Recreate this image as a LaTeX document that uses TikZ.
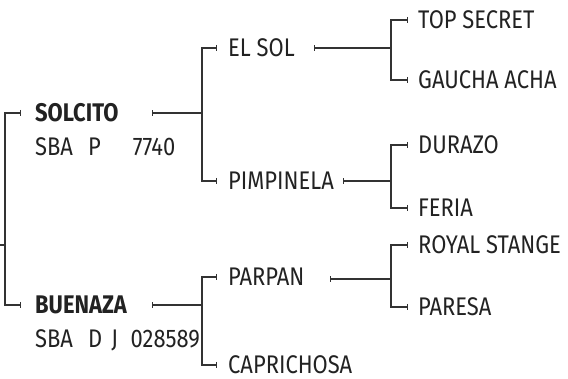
\documentclass[tikz,border=0pt]{standalone}
\usepackage{fontspec}
\setmainfont{Fira Sans}[FakeStretch=0.86]
\usepackage{tikz}
\usetikzlibrary{arrows.meta}

\definecolor{ink}{HTML}{222222}
\definecolor{wire}{HTML}{333333}

\tikzset{
  horse/.style={anchor=west,inner xsep=0pt,inner ysep=0pt,text=ink,font=\fontsize{25.5}{28}\selectfont},
  sire/.style={horse,font=\fontsize{25.5}{28}\selectfont\bfseries},
  reg/.style={horse},
  branch/.style={draw=wire,line width=1.2pt,-{Bar[width=6pt,line width=1.2pt]}},
  stem/.style={draw=wire,line width=1.2pt,{Bar[width=6pt,line width=1.2pt]}-}
}

\begin{document}
\begin{tikzpicture}[x=1pt,y=-1pt]
    \useasboundingbox (0,0) rectangle (568,379);

    % Parents
    \node[sire] (solcito) at (35,113) {SOLCITO};
    \node[reg]  (solcito-reg) at (35,147) {SBA\hspace{0.6em}P\hspace{1.25em}7740};
    \node[sire] (buenaza) at (35,305) {BUENAZA};
    \node[reg]  (buenaza-reg) at (35,340) {SBA\hspace{0.6em}D\hspace{0.35em}J\hspace{0.5em}028589};

    % Grandparents
    \node[horse] (elsol) at (228,48) {EL SOL};
    \node[horse] (pimpinela) at (228,181) {PIMPINELA};
    \node[horse] (parpan) at (228,277) {PARPAN};
    \node[horse] (caprichosa) at (228,365) {CAPRICHOSA};

    % Great-grandparents
    \node[horse] (topsecret) at (418,20) {TOP SECRET};
    \node[horse] (gaucha) at (418,80) {GAUCHA ACHA};
    \node[horse] (durazo) at (418,145) {DURAZO};
    \node[horse] (feria) at (418,208) {FERIA};
    \node[horse] (royal) at (418,245) {ROYAL STANGE};
    \node[horse] (paresa) at (418,307) {PARESA};

    % Junctions and stem starts
    \coordinate (in-root) at (0,245);
    \coordinate (j-root) at (5,245);
    \coordinate (s-solcito) at (152,113);
    \coordinate (j-solcito) at (202,113);
    \coordinate (s-buenaza) at (152,305);
    \coordinate (j-buenaza) at (202,305);
    \coordinate (s-elsol) at (314,48);
    \coordinate (j-elsol) at (391,48);
    \coordinate (s-pimpinela) at (343,181);
    \coordinate (j-pimpinela) at (391,181);
    \coordinate (s-parpan) at (330,279);
    \coordinate (j-parpan) at (391,279);

    % Root bracket
    \draw[draw=wire,line width=1.2pt] (in-root) -- (j-root);
    \draw[branch,shorten >=14pt] (j-root) |- (solcito);
    \draw[branch,shorten >=14pt] (j-root) |- (buenaza);

    % Parents to grandparents
    \draw[stem] (s-solcito) -- (j-solcito);
    \draw[branch,shorten >=11pt] (j-solcito) |- (elsol);
    \draw[branch,shorten >=11pt] (j-solcito) |- (pimpinela);
    \draw[stem] (s-buenaza) -- (j-buenaza);
    \draw[branch,shorten >=11pt] (j-buenaza) |- (parpan);
    \draw[branch,shorten >=11pt] (j-buenaza) |- (caprichosa);

    % Grandparents to great-grandparents
    \draw[stem] (s-elsol) -- (j-elsol);
    \draw[branch,shorten >=10pt] (j-elsol) |- (topsecret);
    \draw[branch,shorten >=10pt] (j-elsol) |- (gaucha);
    \draw[stem] (s-pimpinela) -- (j-pimpinela);
    \draw[branch,shorten >=10pt] (j-pimpinela) |- (durazo);
    \draw[branch,shorten >=10pt] (j-pimpinela) |- (feria);
    \draw[stem] (s-parpan) -- (j-parpan);
    \draw[branch,shorten >=10pt] (j-parpan) |- (royal);
    \draw[branch,shorten >=10pt] (j-parpan) |- (paresa);
\end{tikzpicture}
\end{document}
